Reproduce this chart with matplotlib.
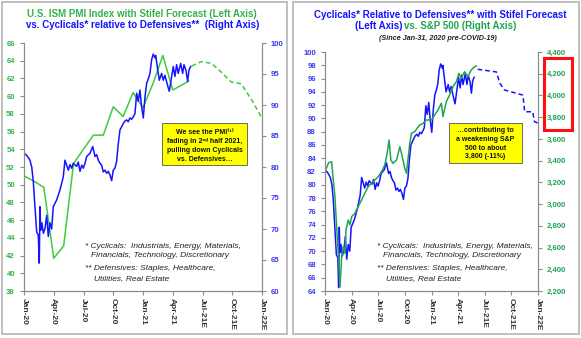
import matplotlib
matplotlib.use("Agg")
import matplotlib.pyplot as plt
from matplotlib.patches import Rectangle
from matplotlib.ticker import FuncFormatter
from matplotlib.transforms import blended_transform_factory

plt.rcParams['font.family'] = ['Liberation Sans', 'DejaVu Sans']

# x values are months since Jan-2020
quarter_ticks = [0, 3, 6, 9, 12, 15, 18, 21, 24]
quarter_labels = ['Jan-20', 'Apr-20', 'Jul-20', 'Oct-20', 'Jan-21', 'Apr-21',
                  'Jul-21E', 'Oct-21E', 'Jan-22E']

# ISM manufacturing PMI (monthly) and Stifel forecast
pmi_m = [0, 1, 2, 3, 4, 5, 6, 7, 8, 9, 10, 11, 12, 13, 14, 15, 16, 16.6]
pmi = [51.0, 50.4, 49.7, 41.7, 43.1, 52.4, 54.0, 55.6, 55.6, 58.8, 57.7, 60.4,
       58.7, 61.4, 64.6, 60.7, 61.3, 61.7]
pmi_fc_m = [16.9, 17.9, 18.9, 19.9, 20.9, 21.9, 23.0, 24.0]
pmi_fc = [63.4, 63.9, 63.7, 62.7, 61.6, 61.4, 59.5, 57.5]

# Cyclicals relative to Defensives
cyc_m = [0.0, 0.27, 0.6, 0.78, 0.94, 1.11, 1.28, 1.44, 1.54, 1.61, 1.68, 1.81,
         1.95, 2.12, 2.29, 2.45, 2.62, 2.79, 2.95, 3.3, 3.63, 3.96, 4.13, 4.47,
         4.64, 4.81, 4.97, 5.31, 5.47, 5.65, 5.82, 5.98, 6.15, 6.32, 6.65, 6.93,
         7.16, 7.33, 7.49, 7.66, 7.83, 7.99, 8.17, 8.34, 8.5, 8.67, 8.84, 9.0,
         9.17, 9.34, 9.51, 9.68, 9.85, 10.01, 10.18, 10.35, 10.51, 10.68, 10.86,
         11.02, 11.19, 11.36, 11.52, 11.69, 11.86, 12.03, 12.2, 12.37, 12.53,
         12.7, 12.87, 13.03, 13.21, 13.28, 13.44, 13.64, 13.88, 14.04, 14.21,
         14.42, 14.65, 14.89, 15.05, 15.22, 15.39, 15.55, 15.8, 16.0, 16.13,
         16.33, 16.5, 16.63, 16.8]
cyc = [82.2, 81.9, 81.1, 80.0, 77.6, 73.5, 69.5, 69.0, 64.5, 73.6, 69.8, 71.0,
       69.3, 70.1, 72.2, 68.8, 71.0, 70.0, 73.6, 74.7, 76.3, 78.4, 81.1, 79.5,
       80.4, 79.8, 80.6, 80.1, 80.8, 79.3, 80.3, 79.8, 80.6, 81.7, 82.2, 83.3,
       81.7, 82.0, 81.1, 80.6, 80.3, 79.2, 79.5, 79.0, 79.3, 78.7, 77.8, 79.5,
       79.8, 80.9, 83.8, 86.0, 86.5, 87.0, 87.4, 87.6, 87.3, 87.9, 87.7,
       88.1, 88.6, 91.9, 90.6, 92.4, 89.7, 87.9, 91.3, 93.5, 94.2,
       95.1, 97.3, 98.2, 97.6, 98.0, 96.2, 94.0, 95.1, 94.0, 94.8,
       93.5, 92.2, 94.6, 96.2, 94.6, 96.5, 95.1, 96.7, 95.1, 96.5,
       95.6, 93.8, 95.6, 96.2]
cyc_fc_m = [17.2, 19.3, 19.7, 20.2, 21.5, 22.3, 22.5, 23.4, 23.6, 24.0]
cyc_fc = [97.4, 97.0, 95.3, 94.3, 93.8, 93.5, 91.0, 91.0, 89.5, 89.3]

# S&P 500
spx_m = [0.0, 0.4, 0.75, 0.93, 1.12, 1.31, 1.49, 1.69, 1.88, 2.06, 2.25, 2.36,
         2.62, 2.81, 3.0, 3.37, 3.74, 4.12, 4.49, 4.87, 5.25, 5.62, 5.99, 6.37,
         6.74, 7.0, 7.22, 7.42, 7.67, 8.06, 8.43, 8.62, 8.99, 9.18, 9.55, 9.74,
         10.11, 10.37, 10.67, 11.04, 11.43, 11.99, 12.36, 12.73, 13.11, 13.29,
         13.67, 14.04, 14.42, 14.8, 15.09, 15.36, 15.73, 16.1, 16.47, 16.85, 17.04]
spx = [3300, 3380, 3390, 3222, 3068, 2792, 2547, 2240, 2516, 2608, 2547, 2762,
       2854, 2808, 2884, 2915, 2977, 3038, 3100, 3161, 3191, 3222, 3252, 3298,
       3360, 3467, 3590, 3406, 3375, 3406, 3528, 3467, 3329, 3283, 3559, 3651,
       3666, 3697, 3728, 3743, 3774, 3774, 3820, 3866, 3928, 3805,
       3943, 4004, 4081, 4127, 4204, 4158, 4219, 4173, 4234, 4265, 4271]

GREEN = '#3ccc3c'
GREEN_TXT = '#33b34d'
SPX_GREEN = '#1fa552'
BLUE = '#1414ff'
BLUE_TXT = '#3a3af0'
GRAY = '#8c8c8c'

W, H = 581, 338
fig = plt.figure(figsize=(W / 100, H / 100), dpi=100)


def fx(px):
    return px / W


def fy(py):
    return 1 - py / H


def style_axes(ax, ax2, lcolor, rcolor):
    for a in (ax, ax2):
        for s in a.spines.values():
            s.set_color(GRAY)
            s.set_linewidth(0.8)
        a.spines['top'].set_visible(False)
        a.tick_params(colors=GRAY, length=3, width=0.8, labelsize=5.6)
    ax.tick_params(axis='y', labelcolor=lcolor)
    ax2.tick_params(axis='y', labelcolor=rcolor)
    for lab in ax.get_yticklabels() + ax2.get_yticklabels():
        lab.set_fontweight('bold')
    ax.set_xlim(0, 24)
    ax.set_xticks(quarter_ticks)
    ax.set_xticklabels(quarter_labels, rotation=270, fontsize=6,
                       fontweight='bold', color='#333333')
    ax.tick_params(axis='x', labelcolor='#333333', pad=2)


# panel frames
for x0, x1 in [(2, 287), (293, 579)]:
    fig.add_artist(Rectangle((fx(x0), fy(334)), fx(x1 - x0), (334 - 2) / H,
                             fill=False, ec='#b4b4b4', lw=1.2))

# left panel: PMI vs Cyclicals/Defensives
axL = fig.add_axes([fx(24), fy(291), fx(238), 248 / H])
axL2 = axL.twinx()
axL.plot(pmi_m, pmi, color=GREEN, lw=1.1)
axL.plot(pmi_fc_m, pmi_fc, color=GREEN, lw=1.1, ls=(0, (3, 2)))
axL2.plot(cyc_m, cyc, color=BLUE, lw=1.1)
axL.set_ylim(38, 66)
axL.set_yticks(range(38, 67, 2))
axL2.set_ylim(60, 100)
axL2.set_yticks(range(60, 101, 5))
style_axes(axL, axL2, GREEN_TXT, BLUE_TXT)

# right panel: Cyclicals/Defensives vs S&P 500
axR = fig.add_axes([fx(325), fy(291), fx(213), 239 / H])
axR2 = axR.twinx()
axR.plot(cyc_m, cyc, color=BLUE, lw=1.1)
axR.plot(cyc_fc_m, cyc_fc, color=BLUE, lw=1.1, ls=(0, (3, 2)))
axR2.plot(spx_m, spx, color=SPX_GREEN, lw=1.1)
axR.set_ylim(64, 100)
axR.set_yticks(range(64, 101, 2))
axR2.set_ylim(2200, 4400)
axR2.set_yticks(range(2200, 4401, 200))
axR2.yaxis.set_major_formatter(FuncFormatter(lambda v, p: f'{v:,.0f}'))
style_axes(axR, axR2, BLUE_TXT, SPX_GREEN)

# red box around the 3,800-4,200 range on the S&P axis
tr = blended_transform_factory(axR2.transAxes, axR2.transData)
axR2.add_patch(Rectangle((1.03, 3680), 0.13, 665, transform=tr, fill=False,
                         ec='#ff1010', lw=2.2, clip_on=False))

# titles
tkw = dict(fontsize=7.0, fontweight='bold', va='center')
fig.text(fx(142), fy(14), 'U.S. ISM PMI Index with Stifel Forecast (Left Axis)',
         color=GREEN_TXT, ha='center', **tkw)
fig.text(fx(143), fy(25), 'vs. Cyclicals* relative to Defensives**  (Right Axis)',
         color=BLUE, ha='center', **tkw)
fig.text(fx(440), fy(15), 'Cyclicals* Relative to Defensives** with Stifel Forecast',
         color=BLUE, ha='center', **tkw)
fig.text(fx(355), fy(26), '(Left Axis)', color=BLUE, ha='left', **tkw)
fig.text(fx(404), fy(26), 'vs. S&P 500 (Right Axis)', color=SPX_GREEN,
         ha='left', **tkw)
fig.text(fx(438), fy(38), '(Since Jan-31, 2020 pre-COVID-19)', color='#222222',
         fontsize=5.2, fontweight='bold', fontstyle='italic', ha='center', va='center')

# yellow call-outs, one text per line
boxes = [
    ((162, 123, 85, 42), [132.5, 141.7, 150.7, 159.3],
     ['We see the PMI⁽¹⁾', 'fading in 2ⁿᵈ half 2021,',
      'pulling down Cyclicals', 'vs. Defensives…']),
    ((449, 123, 73, 40), [130.7, 139.3, 148.3, 156.7],
     ['…contributing to', 'a weakening S&P', '500 to about', '3,800 (-11%)']),
]
for (bx, by, bw, bh), ys, lines in boxes:
    fig.add_artist(Rectangle((fx(bx), fy(by + bh)), fx(bw), bh / H,
                             fc='#ffff00', ec='#555555', lw=0.6))
    for ly, line in zip(ys, lines):
        fig.text(fx(bx + bw / 2), fy(ly), line, fontsize=5.0,
                 fontweight='bold', ha='center', va='center', color='#111111')

# footnotes
fkw = dict(fontsize=6.0, fontstyle='italic', color='#222222', va='center')
for x0 in (85, 377):
    fig.text(fx(x0), fy(246), '* Cyclicals:  Industrials, Energy, Materials,', **fkw)
    fig.text(fx(x0 + 6), fy(255.7), 'Financials, Technology, Discretionary', **fkw)
    fig.text(fx(x0), fy(269), '** Defensives: Staples, Healthcare,', **fkw)
    fig.text(fx(x0 + 9), fy(278.3), 'Utilities, Real Estate', **fkw)

fig.savefig('out.png', dpi=100)
